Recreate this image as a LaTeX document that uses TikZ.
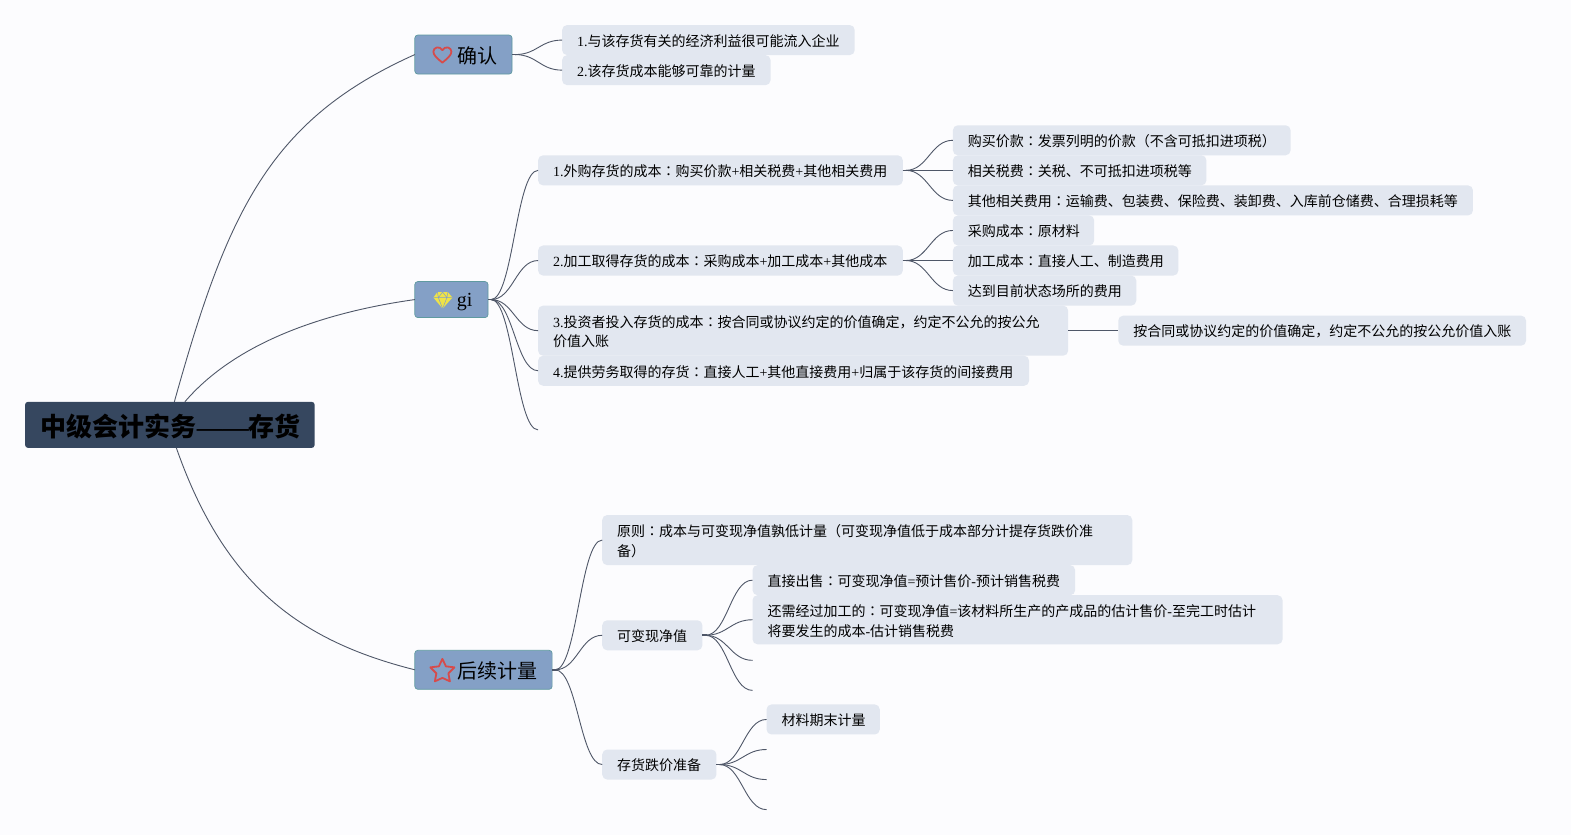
\documentclass[tikz,border=0pt]{standalone}
\usepackage{fontspec}
\setmainfont{Liberation Serif}
\newfontfamily\cjk{Noto Sans CJK SC}
\newfontfamily\cjktc{Noto Sans CJK TC}
\newcommand{\lt}[1]{{\rmfamily #1}}
\newcommand{\cl}{{\cjktc ：}}
\newcommand{\fl}{\rule[-2.4pt]{0pt}{17.4pt}}
\newcommand{\dl}{\rule[-2pt]{0pt}{2pt}}
\definecolor{bgc}{HTML}{FCFCFE}
\definecolor{leafc}{HTML}{E2E7F0}
\definecolor{branchc}{HTML}{84A0C6}
\definecolor{branchb}{HTML}{5F9AA0}
\definecolor{rootc}{HTML}{36475F}
\definecolor{linec}{HTML}{4F5768}
\definecolor{iconred}{HTML}{D64B4B}
\definecolor{iconyel}{HTML}{EFE347}
\tikzset{
  x=1.002pt,y=-1.002pt,
  boxbase/.style={anchor=north west,inner xsep=15pt,inner ysep=0pt,outer sep=0pt,rounded corners=5pt,align=left},
  leaf/.style={boxbase,fill=leafc,text=black,font=\cjk\fontsize{14}{19.6}\selectfont},
  branch/.style={boxbase,fill=branchc,draw=branchb,line width=.7pt,rounded corners=3pt,text=black,font=\cjk\fontsize{20}{24}\selectfont},
  rootbox/.style={anchor=north west,inner sep=0pt,outer sep=0pt,rounded corners=3pt,align=center,fill=rootc,text=black,font=\cjk\bfseries\fontsize{26}{30}\selectfont},
  conn/.style={draw=linec,line width=.9pt},
  stub/.style={draw=linec,line width=1.6pt},
  iconline/.style={draw=iconred,line width=1.8pt,line join=round,fill=none},
}
\newcommand{\lf}[6]{\pgfmathsetmacro{\tw}{#4*1.002-30}\pgfmathsetmacro{\th}{#5*1.002}\node[leaf,text width=\tw pt,minimum height=\th pt] (#1) at (#2,#3) {\fl #6};}
\newcommand{\conn}[2]{\draw[conn] ([xshift=3pt]#1.east) .. controls +(22,0) and +(-22,0) .. (#2);\draw[stub] (#1.east) -- ++(5,0);}
\begin{document}
\begin{tikzpicture}
\useasboundingbox (0,0) rectangle (1567.86,833.33);
\fill[bgc] (0,0) rectangle (1567.86,833.33);

% main nodes
\node[rootbox,text width=289.6pt,minimum height=46.1pt] (root) at (25,401) {\rule[-4.8pt]{0pt}{32.8pt}\hspace*{2pt}中级会计实务\lt{——}存货};
\node[branch,text width=67.2pt,minimum height=39pt] (qr) at (414,35) {\rule[-3.8pt]{0pt}{24.8pt}\hspace*{28pt}确认};
\node[branch,text width=43.2pt,minimum height=36pt] (gi) at (414,281) {\rule[-6.6pt]{0pt}{26.6pt}\hspace*{27pt}\lt{gi}};
\node[branch,text width=107.3pt,minimum height=39pt] (hx) at (414,649) {\rule[-3.8pt]{0pt}{24.8pt}\hspace*{28pt}后续计量};

% leaves
\lf{a1}{561}{25}{292}{30}{\lt{1.}与该存货有关的经济利益很可能流入企业}
\lf{a2}{561}{55}{208}{30}{\lt{2.}该存货成本能够可靠的计量}
\lf{b1}{537}{155}{364}{30}{\lt{1.}外购存货的成本\cl 购买价款\lt{+}相关税费\lt{+}其他相关费用}
\lf{b2}{537}{245}{364}{30}{\lt{2.}加工取得存货的成本\cl 采购成本\lt{+}加工成本\lt{+}其他成本}
\lf{b3}{537}{305}{529}{50}{\lt{3.}投资者投入存货的成本\cl 按合同或协议约定的价值确定，约定不公允的按公允\\价值入账\dl}
\lf{b4}{537}{355}{490}{30}{\lt{4.}提供劳务取得的存货\cl 直接人工\lt{+}其他直接费用\lt{+}归属于该存货的间接费用}
\coordinate (b5) at (537,429);
\lf{c1}{951}{125}{337}{30}{购买价款\cl 发票列明的价款（不含可抵扣进项税）}
\lf{c2}{951}{155}{253}{30}{相关税费\cl 关税、不可抵扣进项税等}
\lf{c3}{951}{185}{519}{30}{其他相关费用\cl 运输费、包装费、保险费、装卸费、入库前仓储费、合理损耗等}
\lf{d1}{951}{215}{141}{30}{采购成本\cl 原材料}
\lf{d2}{951}{245}{225}{30}{加工成本\cl 直接人工、制造费用}
\lf{d3}{951}{275}{183}{30}{达到目前状态场所的费用}
\lf{e1}{1116}{315}{407}{30}{按合同或协议约定的价值确定，约定不公允的按公允价值入账}
\lf{f1}{601}{514}{529}{50}{原则\cl 成本与可变现净值孰低计量（可变现净值低于成本部分计提存货跌价准\\备）\dl}
\lf{f2}{601}{619}{100}{30}{可变现净值}
\lf{f3}{601}{748}{114}{30}{存货跌价准备}
\lf{g1}{751}{564}{322}{30}{\mbox{直接出售\cl 可变现净值\lt{=}预计售价\lt{-}预计销售税费}}
\lf{g2}{751}{594}{529}{49}{还需经过加工的\cl 可变现净值\lt{=}该材料所生产的产成品的估计售价\lt{-}至完工时估计\\将要发生的成本\lt{-}估计销售税费\dl}
\coordinate (g3) at (751,659);
\coordinate (g4) at (751,689);
\lf{h1}{765}{703}{113}{30}{材料期末计量}
\coordinate (h2) at (765,748);
\coordinate (h3) at (765,778);
\coordinate (h4) at (765,808);

% root connectors
\draw[conn] ([xshift=4.5pt]root.north) .. controls +(53,-190) and +(-145,65) .. (qr.west);
\draw[conn] ([xshift=15pt]root.north) .. controls +(47,-55) and +(-100,14) .. (gi.west);
\draw[conn] ([xshift=6.5pt]root.south) .. controls +(48,137) and +(-115,-29) .. (hx.west);

% branch connectors
\conn{qr}{a1.west}\conn{qr}{a2.west}
\conn{gi}{b1.west}\conn{gi}{b2.west}\conn{gi}{b3.west}\conn{gi}{b4.west}\conn{gi}{b5}
\conn{b1}{c1.west}\conn{b1}{c2.west}\conn{b1}{c3.west}
\conn{b2}{d1.west}\conn{b2}{d2.west}\conn{b2}{d3.west}
\draw[conn] (b3.east) -- (e1.west);
\conn{hx}{f1.west}\conn{hx}{f2.west}\conn{hx}{f3.west}
\conn{f2}{g1.west}\conn{f2}{g2.west}\conn{f2}{g3}\conn{f2}{g4}
\conn{f3}{h1.west}\conn{f3}{h2}\conn{f3}{h3}\conn{f3}{h4}

% icons
\draw[iconline] (441.5,62.5) .. controls (436,58) and (432.5,55) .. (432.5,51.5)
  .. controls (432.5,47) and (439,45.5) .. (441.5,50)
  .. controls (444,45.5) and (450.5,47) .. (450.5,51.5)
  .. controls (450.5,55) and (447,58) .. (441.5,62.5) -- cycle;
\draw[iconline] (441.5,657.5) -- (445,665) -- (453.5,666) -- (447.5,672) -- (449,680) -- (441.5,676.5) -- (434,680) -- (435.5,672) -- (429.5,666) -- (438,665) -- cycle;
\fill[iconyel] (436.5,291.5) -- (447,291.5) -- (451.5,297) -- (441.7,308) -- (432.5,297) -- cycle;
\draw[branchc,line width=.5pt] (432.5,297) -- (451.5,297) (437.5,297) -- (441.7,308) -- (446,297) (436.5,291.5) -- (437.5,297) -- (441.7,291.5) -- (446,297) -- (447,291.5);
\end{tikzpicture}
\end{document}
